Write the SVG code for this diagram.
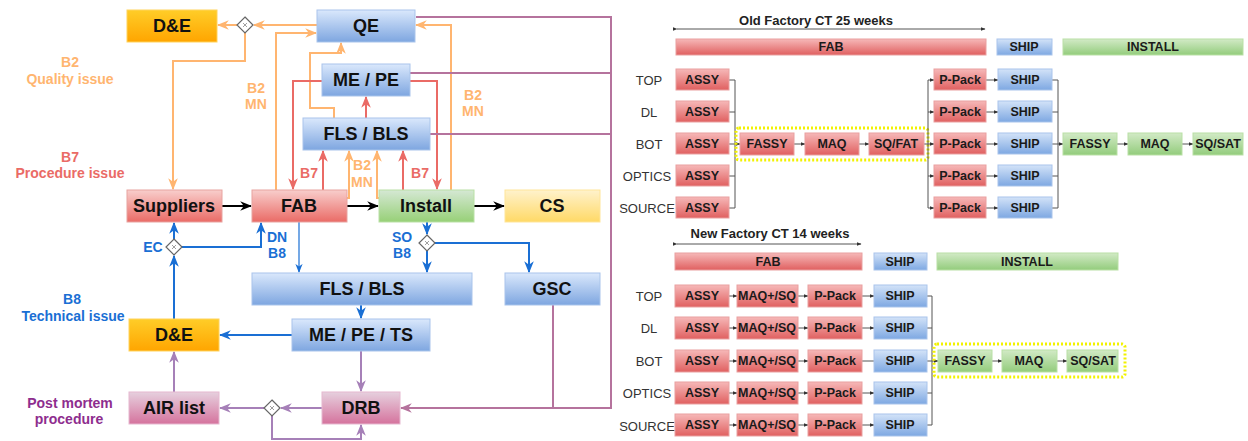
<svg xmlns="http://www.w3.org/2000/svg" width="1248" height="441" viewBox="0 0 1248 441">
<defs>
<linearGradient id="gOrange" x1="0" y1="0" x2="0" y2="1"><stop offset="0" stop-color="#ffcd28"/><stop offset="1" stop-color="#ffa500"/></linearGradient>
<linearGradient id="gBlue" x1="0" y1="0" x2="0" y2="1"><stop offset="0" stop-color="#dae8fc"/><stop offset="1" stop-color="#7ea6e0"/></linearGradient>
<linearGradient id="gRed" x1="0" y1="0" x2="0" y2="1"><stop offset="0" stop-color="#f8cecc"/><stop offset="1" stop-color="#ea6b66"/></linearGradient>
<linearGradient id="gGreen" x1="0" y1="0" x2="0" y2="1"><stop offset="0" stop-color="#d5e8d4"/><stop offset="1" stop-color="#97d077"/></linearGradient>
<linearGradient id="gYellow" x1="0" y1="0" x2="0" y2="1"><stop offset="0" stop-color="#fff2cc"/><stop offset="1" stop-color="#ffd966"/></linearGradient>
<linearGradient id="gPink" x1="0" y1="0" x2="0" y2="1"><stop offset="0" stop-color="#e6d0de"/><stop offset="1" stop-color="#d5739d"/></linearGradient>
<linearGradient id="rRed" x1="0" y1="0" x2="0" y2="1"><stop offset="0" stop-color="#f6b8b8"/><stop offset="1" stop-color="#e06060"/></linearGradient>
<linearGradient id="rBlue" x1="0" y1="0" x2="0" y2="1"><stop offset="0" stop-color="#d3e3f8"/><stop offset="1" stop-color="#7ea8e2"/></linearGradient>
<linearGradient id="rGreen" x1="0" y1="0" x2="0" y2="1"><stop offset="0" stop-color="#d2eac6"/><stop offset="1" stop-color="#93cc7c"/></linearGradient>
<marker id="aOr" markerUnits="userSpaceOnUse" markerWidth="12" markerHeight="12" viewBox="0 0 10 10" refX="9" refY="5" orient="auto"><path d="M0,1 L10,5 L0,9 L3,5 z" fill="#ffb570"/></marker>
<marker id="aRed" markerUnits="userSpaceOnUse" markerWidth="12" markerHeight="12" viewBox="0 0 10 10" refX="9" refY="5" orient="auto"><path d="M0,1 L10,5 L0,9 L3,5 z" fill="#ea6b66"/></marker>
<marker id="aPur" markerUnits="userSpaceOnUse" markerWidth="12" markerHeight="12" viewBox="0 0 10 10" refX="9" refY="5" orient="auto"><path d="M0,1 L10,5 L0,9 L3,5 z" fill="#b5739d"/></marker>
<marker id="aLil" markerUnits="userSpaceOnUse" markerWidth="12" markerHeight="12" viewBox="0 0 10 10" refX="9" refY="5" orient="auto"><path d="M0,1 L10,5 L0,9 L3,5 z" fill="#a680b8"/></marker>
<marker id="aBlu" markerUnits="userSpaceOnUse" markerWidth="12" markerHeight="12" viewBox="0 0 10 10" refX="9" refY="5" orient="auto"><path d="M0,1 L10,5 L0,9 L3,5 z" fill="#1a6fd4"/></marker>
<marker id="aBluS" markerUnits="userSpaceOnUse" markerWidth="9" markerHeight="9" viewBox="0 0 10 10" refX="9" refY="5" orient="auto"><path d="M0,1 L10,5 L0,9 L3,5 z" fill="#1a6fd4"/></marker>
<marker id="aBlk" markerUnits="userSpaceOnUse" markerWidth="12" markerHeight="12" viewBox="0 0 10 10" refX="9" refY="5" orient="auto"><path d="M0,1 L10,5 L0,9 L3,5 z" fill="#000"/></marker>
<marker id="aGry" markerUnits="userSpaceOnUse" markerWidth="5" markerHeight="5" viewBox="0 0 10 10" refX="9" refY="5" orient="auto"><path d="M0,1 L10,5 L0,9 z" fill="#333"/></marker>
<style>
text{font-family:"Liberation Sans",Arial,sans-serif;}
.n{font-weight:bold;font-size:18px;fill:#111;text-anchor:middle;dominant-baseline:central;}
.lb{font-weight:bold;font-size:14px;text-anchor:middle;dominant-baseline:central;}
.c{fill:none;stroke-width:2;}
.or{stroke:#ffb570;} .rd{stroke:#ea6b66;} .pu{stroke:#b5739d;} .li{stroke:#a680b8;} .bl{stroke:#1a6fd4;} .bk{stroke:#000;}
.dia{fill:#fff;stroke:#666;stroke-width:1.2;}
.dx{stroke:#888;stroke-width:0.8;}
.s{font-weight:bold;font-size:12.5px;fill:#1a1a1a;text-anchor:middle;dominant-baseline:central;}
.rl{font-size:13px;fill:#333;text-anchor:middle;dominant-baseline:central;}
.t{font-weight:bold;font-size:13px;fill:#222;text-anchor:middle;}
.g{fill:none;stroke:#555;stroke-width:1;}
.rr{fill:url(#rRed);stroke:#e9a0a0;stroke-width:1;}
.rb{fill:url(#rBlue);stroke:#a9c4eb;stroke-width:1;}
.rg{fill:url(#rGreen);stroke:#b9e0a5;stroke-width:1;}
.yd{fill:none;stroke:#f2f200;stroke-width:3;stroke-dasharray:2 2;}
</style>
</defs>
<rect width="1248" height="441" fill="#fff"/>

<!-- side labels -->
<g id="labels">
<text class="lb" x="70" y="62" fill="#ffb570">B2</text>
<text class="lb" x="70" y="79" fill="#ffb570">Quality issue</text>
<text class="lb" x="70" y="157" fill="#ea6b66">B7</text>
<text class="lb" x="70" y="173" fill="#ea6b66">Procedure issue</text>
<text class="lb" x="72" y="299" fill="#1a6fd4">B8</text>
<text class="lb" x="73" y="316" fill="#1a6fd4">Technical issue</text>
<text class="lb" x="70" y="403" fill="#8e2d8e">Post mortem</text>
<text class="lb" x="69" y="419" fill="#8e2d8e">procedure</text>
<text class="lb" x="256" y="88" fill="#ffb570">B2</text>
<text class="lb" x="256" y="104" fill="#ffb570">MN</text>
<text class="lb" x="473" y="95" fill="#ffb570">B2</text>
<text class="lb" x="473" y="111" fill="#ffb570">MN</text>
<text class="lb" x="309" y="173" fill="#ea6b66">B7</text>
<text class="lb" x="362" y="165" fill="#ffb570">B2</text>
<text class="lb" x="362" y="182" fill="#ffb570">MN</text>
<text class="lb" x="420" y="173" fill="#ea6b66">B7</text>
<text class="lb" x="153" y="247" fill="#1a6fd4">EC</text>
<text class="lb" x="277" y="237" fill="#1a6fd4">DN</text>
<text class="lb" x="277" y="253" fill="#1a6fd4">B8</text>
<text class="lb" x="402" y="237" fill="#1a6fd4">SO</text>
<text class="lb" x="402" y="253" fill="#1a6fd4">B8</text>
</g>

<!-- connectors left -->
<g id="connectors">
<path class="c or" d="M317,25 L254,25" marker-end="url(#aOr)"/>
<path class="c or" d="M237,25 L218,25" marker-end="url(#aOr)"/>
<path class="c or" d="M245,33 L245,61 L173,61 L173,189" marker-end="url(#aOr)"/>
<path class="c or" d="M276,190 L276,33 L316,33" marker-end="url(#aOr)"/>
<path class="c or" d="M334,118 L334,108 L310,108 L310,53 L341,53 L341,43" marker-end="url(#aOr)"/>
<path class="c or" d="M451,190 L451,25 L416,25" marker-end="url(#aOr)"/>
<path class="c or" d="M347,198 L349,198 L349,151" marker-end="url(#aOr)"/>
<path class="c or" d="M379,198 L377,198 L377,151" marker-end="url(#aOr)"/>
<path class="c rd" d="M322,81 L293,81 L293,189" marker-end="url(#aRed)"/>
<path class="c rd" d="M323,190 L323,151" marker-end="url(#aRed)"/>
<path class="c rd" d="M366,118 L366,97" marker-end="url(#aRed)"/>
<path class="c rd" d="M403,190 L403,151" marker-end="url(#aRed)"/>
<path class="c rd" d="M410,81 L437,81 L437,189" marker-end="url(#aRed)"/>
<path class="c pu" d="M416,17 L611,17 L611,408 L401,408" marker-end="url(#aPur)"/>
<path class="c pu" d="M410,73 L611,73"/>
<path class="c pu" d="M430,134 L611,134"/>
<path class="c pu" d="M553,305 L553,408"/>
<path class="c li" d="M361,351 L361,391" marker-end="url(#aLil)"/>
<path class="c li" d="M322,408 L281,408" marker-end="url(#aLil)"/>
<path class="c li" d="M264,408 L220,408" marker-end="url(#aLil)"/>
<path class="c li" d="M272,416 L272,439 L361,439 L361,425" marker-end="url(#aLil)"/>
<path class="c li" d="M174,392 L174,352" marker-end="url(#aLil)"/>
<path class="c bl" d="M174,319 L174,256" marker-end="url(#aBlu)"/>
<path class="c bl" d="M174,239 L174,223" marker-end="url(#aBlu)"/>
<path class="c bl" d="M182,247 L261,247 L261,223" marker-end="url(#aBlu)"/>
<path class="c bl" style="stroke-width:1.2" d="M299,222 L299,272" marker-end="url(#aBluS)"/>
<path class="c bl" d="M427,222 L427,234" marker-end="url(#aBlu)"/>
<path class="c bl" d="M427,251 L427,272" marker-end="url(#aBlu)"/>
<path class="c bl" d="M435,243 L529,243 L529,272" marker-end="url(#aBlu)"/>
<path class="c bl" d="M361,305 L361,318" marker-end="url(#aBlu)"/>
<path class="c bl" d="M292,335 L220,335" marker-end="url(#aBlu)"/>
<path class="c bk" d="M222,206 L251,206" marker-end="url(#aBlk)"/>
<path class="c bk" d="M347,206 L378,206" marker-end="url(#aBlk)"/>
<path class="c bk" d="M474,206 L504,206" marker-end="url(#aBlk)"/>
</g>

<g id="gw-top"><path class="dia" d="M245,17 L253,25 L245,33 L237,25 z"/><path class="dx" d="M243,23 L247,27 M247,23 L243,27"/></g>
<g id="gw-ec"><path class="dia" d="M174,239 L182,247 L174,255 L166,247 z"/><path class="dx" d="M172,245 L176,249 M176,245 L172,249"/></g>
<g id="gw-so"><path class="dia" d="M427,235 L435,243 L427,251 L419,243 z"/><path class="dx" d="M425,241 L429,245 M429,241 L425,245"/></g>
<g id="gw-bot"><path class="dia" d="M272,400 L280,408 L272,416 L264,408 z"/><path class="dx" d="M270,406 L274,410 M274,406 L270,410"/></g>

<g id="de-top"><rect x="127" y="10" width="90" height="32" fill="url(#gOrange)" stroke="#ffd35c"/><text class="n" x="172" y="26">D&amp;E</text></g>
<g id="qe"><rect x="317" y="10" width="98" height="32" fill="url(#gBlue)" stroke="#a9c4eb"/><text class="n" x="366" y="26">QE</text></g>
<g id="mepe"><rect x="322" y="64" width="88" height="32" fill="url(#gBlue)" stroke="#a9c4eb"/><text class="n" x="366" y="80">ME / PE</text></g>
<g id="flsbls-top"><rect x="303" y="118" width="127" height="32" fill="url(#gBlue)" stroke="#a9c4eb"/><text class="n" x="366" y="134">FLS / BLS</text></g>
<g id="suppliers"><rect x="127" y="190" width="95" height="32" fill="url(#gRed)" stroke="#e8a3a0"/><text class="n" x="174" y="206">Suppliers</text></g>
<g id="fab"><rect x="252" y="190" width="95" height="32" fill="url(#gRed)" stroke="#e8a3a0"/><text class="n" x="299" y="206">FAB</text></g>
<g id="install"><rect x="379" y="190" width="95" height="32" fill="url(#gGreen)" stroke="#b9e0a5"/><text class="n" x="426" y="206">Install</text></g>
<g id="cs"><rect x="505" y="190" width="95" height="32" fill="url(#gYellow)" stroke="#ffe599"/><text class="n" x="552" y="206">CS</text></g>
<g id="flsbls-bot"><rect x="252" y="273" width="220" height="32" fill="url(#gBlue)" stroke="#a9c4eb"/><text class="n" x="362" y="289">FLS / BLS</text></g>
<g id="gsc"><rect x="505" y="273" width="95" height="32" fill="url(#gBlue)" stroke="#a9c4eb"/><text class="n" x="552" y="289">GSC</text></g>
<g id="mepets"><rect x="292" y="319" width="138" height="32" fill="url(#gBlue)" stroke="#a9c4eb"/><text class="n" x="361" y="335">ME / PE / TS</text></g>
<g id="de-bot"><rect x="129" y="319" width="90" height="32" fill="url(#gOrange)" stroke="#ffd35c"/><text class="n" x="174" y="335">D&amp;E</text></g>
<g id="airlist"><rect x="129" y="392" width="90" height="32" fill="url(#gPink)" stroke="#e6b8d0"/><text class="n" x="174" y="408">AIR list</text></g>
<g id="drb"><rect x="322" y="392" width="78" height="32" fill="url(#gPink)" stroke="#e6b8d0"/><text class="n" x="361" y="408">DRB</text></g>

<g id="old-factory">
<text class="t" x="816" y="25">Old Factory CT 25 weeks</text>
<path class="g" d="M677,29 L985,29" marker-start="url(#aGry)" marker-end="url(#aGry)"/>
<rect class="rr" x="676" y="39" width="310" height="16"/><text class="s" x="831" y="47">FAB</text>
<rect class="rb" x="997" y="39" width="55" height="16"/><text class="s" x="1024" y="47">SHIP</text>
<rect class="rg" x="1063" y="39" width="180" height="16"/><text class="s" x="1153" y="47">INSTALL</text>
<text class="rl" x="649" y="80">TOP</text>
<text class="rl" x="649" y="112">DL</text>
<text class="rl" x="649" y="144">BOT</text>
<text class="rl" x="647" y="176">OPTICS</text>
<text class="rl" x="647" y="208">SOURCE</text>
<path class="g" d="M729,80 L735,80 M729,112 L735,112 M729,144 L735,144 M729,176 L735,176 M729,208 L735,208 M735,80 L735,208"/>
<path class="g" d="M735,144 L740,144" marker-end="url(#aGry)"/>
<rect class="yd" x="736" y="128" width="192" height="32" rx="3"/>
<path class="g" d="M794,144 L805,144" marker-end="url(#aGry)"/>
<path class="g" d="M859,144 L869,144" marker-end="url(#aGry)"/>
<path class="g" d="M924,144 L928,144 M928,80 L928,208"/>
<path class="g" d="M928,80 L934,80" marker-end="url(#aGry)"/>
<path class="g" d="M928,112 L934,112" marker-end="url(#aGry)"/>
<path class="g" d="M928,144 L934,144" marker-end="url(#aGry)"/>
<path class="g" d="M928,176 L934,176" marker-end="url(#aGry)"/>
<path class="g" d="M928,208 L934,208" marker-end="url(#aGry)"/>
<path class="g" d="M986,80 L998,80" marker-end="url(#aGry)"/>
<path class="g" d="M986,112 L998,112" marker-end="url(#aGry)"/>
<path class="g" d="M986,144 L998,144" marker-end="url(#aGry)"/>
<path class="g" d="M986,176 L998,176" marker-end="url(#aGry)"/>
<path class="g" d="M986,208 L998,208" marker-end="url(#aGry)"/>
<path class="g" d="M1052,80 L1058,80 M1052,112 L1058,112 M1052,144 L1058,144 M1052,176 L1058,176 M1052,208 L1058,208 M1058,80 L1058,208"/>
<path class="g" d="M1058,144 L1063,144" marker-end="url(#aGry)"/>
<path class="g" d="M1117,144 L1128,144" marker-end="url(#aGry)"/>
<path class="g" d="M1182,144 L1193,144" marker-end="url(#aGry)"/>
<g><rect class="rr" x="676" y="69" width="53" height="21"/><text class="s" x="702" y="80">ASSY</text></g>
<g><rect class="rr" x="676" y="101" width="53" height="21"/><text class="s" x="702" y="112">ASSY</text></g>
<g><rect class="rr" x="676" y="133" width="53" height="21"/><text class="s" x="702" y="144">ASSY</text></g>
<g><rect class="rr" x="676" y="165" width="53" height="21"/><text class="s" x="702" y="176">ASSY</text></g>
<g><rect class="rr" x="676" y="197" width="53" height="21"/><text class="s" x="702" y="208">ASSY</text></g>
<g><rect class="rr" x="740" y="133" width="54" height="22"/><text class="s" x="767" y="144">FASSY</text></g>
<g><rect class="rr" x="805" y="133" width="54" height="22"/><text class="s" x="832" y="144">MAQ</text></g>
<g><rect class="rr" x="869" y="133" width="55" height="22"/><text class="s" x="896" y="144">SQ/FAT</text></g>
<g><rect class="rr" x="934" y="69" width="52" height="21"/><text class="s" x="960" y="80">P-Pack</text></g>
<g><rect class="rr" x="934" y="101" width="52" height="21"/><text class="s" x="960" y="112">P-Pack</text></g>
<g><rect class="rr" x="934" y="133" width="52" height="21"/><text class="s" x="960" y="144">P-Pack</text></g>
<g><rect class="rr" x="934" y="165" width="52" height="21"/><text class="s" x="960" y="176">P-Pack</text></g>
<g><rect class="rr" x="934" y="197" width="52" height="21"/><text class="s" x="960" y="208">P-Pack</text></g>
<g><rect class="rb" x="998" y="69" width="54" height="21"/><text class="s" x="1025" y="80">SHIP</text></g>
<g><rect class="rb" x="998" y="101" width="54" height="21"/><text class="s" x="1025" y="112">SHIP</text></g>
<g><rect class="rb" x="998" y="133" width="54" height="21"/><text class="s" x="1025" y="144">SHIP</text></g>
<g><rect class="rb" x="998" y="165" width="54" height="21"/><text class="s" x="1025" y="176">SHIP</text></g>
<g><rect class="rb" x="998" y="197" width="54" height="21"/><text class="s" x="1025" y="208">SHIP</text></g>
<g><rect class="rg" x="1063" y="133" width="54" height="22"/><text class="s" x="1090" y="144">FASSY</text></g>
<g><rect class="rg" x="1128" y="133" width="54" height="22"/><text class="s" x="1155" y="144">MAQ</text></g>
<g><rect class="rg" x="1193" y="133" width="50" height="22"/><text class="s" x="1218" y="144">SQ/SAT</text></g>
</g>

<g id="new-factory">
<text class="t" x="770" y="238">New Factory CT 14 weeks</text>
<path class="g" d="M677,244 L861,244" marker-start="url(#aGry)" marker-end="url(#aGry)"/>
<rect class="rr" x="675" y="253" width="187" height="17"/><text class="s" x="768" y="262">FAB</text>
<rect class="rb" x="874" y="253" width="53" height="17"/><text class="s" x="900" y="262">SHIP</text>
<rect class="rg" x="937" y="253" width="181" height="17"/><text class="s" x="1027" y="262">INSTALL</text>
<text class="rl" x="649" y="296">TOP</text>
<text class="rl" x="649" y="328">DL</text>
<text class="rl" x="649" y="361">BOT</text>
<text class="rl" x="647" y="393">OPTICS</text>
<text class="rl" x="647" y="426">SOURCE</text>
<g id="nf-rows">
<path class="g" d="M729,296 L737,296" marker-end="url(#aGry)"/><path class="g" d="M798,296 L808,296" marker-end="url(#aGry)"/><path class="g" d="M862,296 L874,296" marker-end="url(#aGry)"/>
<path class="g" d="M729,328 L737,328" marker-end="url(#aGry)"/><path class="g" d="M798,328 L808,328" marker-end="url(#aGry)"/><path class="g" d="M862,328 L874,328" marker-end="url(#aGry)"/>
<path class="g" d="M729,361 L737,361" marker-end="url(#aGry)"/><path class="g" d="M798,361 L808,361" marker-end="url(#aGry)"/><path class="g" d="M862,361 L874,361"/>
<path class="g" d="M729,393 L737,393" marker-end="url(#aGry)"/><path class="g" d="M798,393 L808,393" marker-end="url(#aGry)"/><path class="g" d="M862,393 L874,393" marker-end="url(#aGry)"/>
<path class="g" d="M729,425 L737,425" marker-end="url(#aGry)"/><path class="g" d="M798,425 L808,425" marker-end="url(#aGry)"/><path class="g" d="M862,425 L874,425" marker-end="url(#aGry)"/>
<path class="g" d="M927,296 L932,296 M927,328 L932,328 M927,361 L932,361 M927,393 L932,393 M927,425 L932,425 M932,296 L932,425"/>
<path class="g" d="M932,361 L938,361" marker-end="url(#aGry)"/>
<rect class="yd" x="934" y="344" width="191" height="33" rx="3"/>
<path class="g" d="M992,361 L1002,361" marker-end="url(#aGry)"/>
<path class="g" d="M1057,361 L1067,361" marker-end="url(#aGry)"/>
</g>
<g><rect class="rr" x="675" y="285" width="54" height="22"/><text class="s" x="702" y="296">ASSY</text></g>
<g><rect class="rr" x="675" y="317" width="54" height="22"/><text class="s" x="702" y="328">ASSY</text></g>
<g><rect class="rr" x="675" y="350" width="54" height="22"/><text class="s" x="702" y="361">ASSY</text></g>
<g><rect class="rr" x="675" y="382" width="54" height="22"/><text class="s" x="702" y="393">ASSY</text></g>
<g><rect class="rr" x="675" y="414" width="54" height="22"/><text class="s" x="702" y="425">ASSY</text></g>
<g><rect class="rr" x="737" y="285" width="61" height="22"/><text class="s" x="767" y="296">MAQ+/SQ</text></g>
<g><rect class="rr" x="737" y="317" width="61" height="22"/><text class="s" x="767" y="328">MAQ+/SQ</text></g>
<g><rect class="rr" x="737" y="350" width="61" height="22"/><text class="s" x="767" y="361">MAQ+/SQ</text></g>
<g><rect class="rr" x="737" y="382" width="61" height="22"/><text class="s" x="767" y="393">MAQ+/SQ</text></g>
<g><rect class="rr" x="737" y="414" width="61" height="22"/><text class="s" x="767" y="425">MAQ+/SQ</text></g>
<g><rect class="rr" x="808" y="285" width="54" height="22"/><text class="s" x="835" y="296">P-Pack</text></g>
<g><rect class="rr" x="808" y="317" width="54" height="22"/><text class="s" x="835" y="328">P-Pack</text></g>
<g><rect class="rr" x="808" y="350" width="54" height="22"/><text class="s" x="835" y="361">P-Pack</text></g>
<g><rect class="rr" x="808" y="382" width="54" height="22"/><text class="s" x="835" y="393">P-Pack</text></g>
<g><rect class="rr" x="808" y="414" width="54" height="22"/><text class="s" x="835" y="425">P-Pack</text></g>
<g><rect class="rb" x="874" y="285" width="53" height="22"/><text class="s" x="900" y="296">SHIP</text></g>
<g><rect class="rb" x="874" y="317" width="53" height="22"/><text class="s" x="900" y="328">SHIP</text></g>
<g><rect class="rb" x="874" y="350" width="53" height="22"/><text class="s" x="900" y="361">SHIP</text></g>
<g><rect class="rb" x="874" y="382" width="53" height="22"/><text class="s" x="900" y="393">SHIP</text></g>
<g><rect class="rb" x="874" y="414" width="53" height="22"/><text class="s" x="900" y="425">SHIP</text></g>
<g><rect class="rg" x="938" y="350" width="54" height="22"/><text class="s" x="965" y="361">FASSY</text></g>
<g><rect class="rg" x="1002" y="350" width="55" height="22"/><text class="s" x="1029" y="361">MAQ</text></g>
<g><rect class="rg" x="1067" y="350" width="51" height="22"/><text class="s" x="1093" y="361">SQ/SAT</text></g>
</g>
</svg>
